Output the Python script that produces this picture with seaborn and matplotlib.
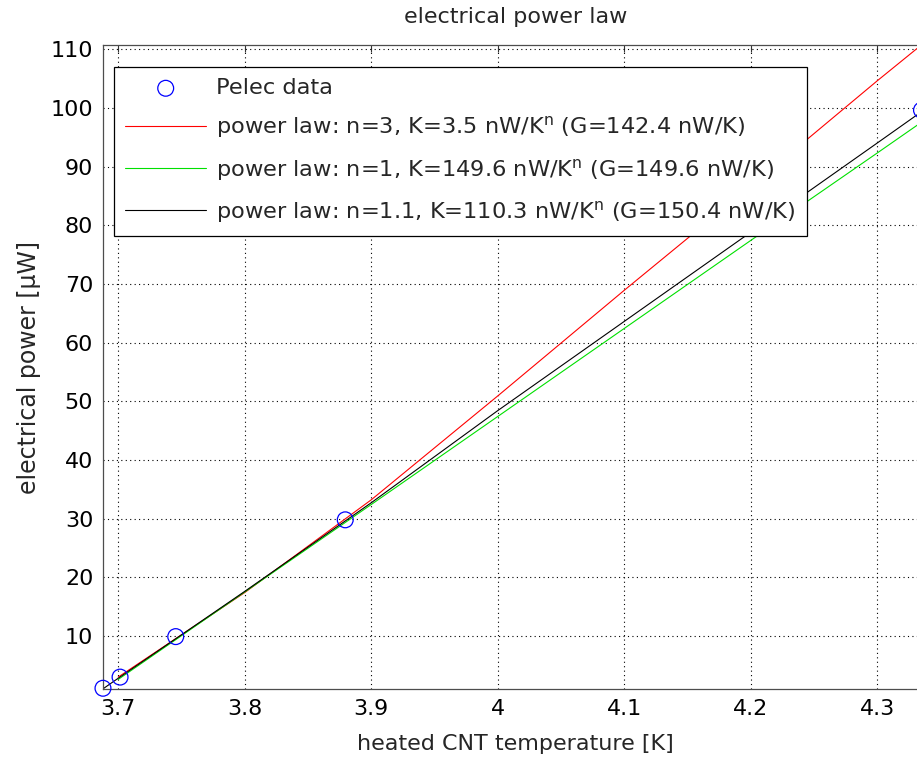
import numpy as np
import pandas as pd
import seaborn as sns
import matplotlib
matplotlib.use("Agg")
import matplotlib.pyplot as plt

# measured points
T_data = [3.688, 3.7015, 3.7455, 3.8795, 4.335]
P_data = [1.1, 3.0, 9.9, 29.8, 99.6]

# fitted curves
T_red = [3.700, 3.800, 3.900, 4.000, 4.100, 4.200, 4.300, 4.340]
P_red = [3.0, 17.4, 33.2, 50.9, 68.9, 86.6, 104.6, 111.6]

T_green = [3.700, 3.800, 3.900, 4.000, 4.100, 4.200, 4.300, 4.340]
P_green = [2.6, 17.5, 32.4, 47.4, 62.4, 77.4, 92.3, 98.3]

T_black = [3.688, 3.700, 3.800, 3.900, 4.000, 4.100, 4.200, 4.300, 4.340]
P_black = [1.0, 2.8, 17.6, 32.7, 48.4, 63.6, 78.8, 94.0, 100.1]

labels = [
    "Pelec data",
    r"power law: n=3, K=3.5 nW/K$^{\mathrm{n}}$ (G=142.4 nW/K)",
    r"power law: n=1, K=149.6 nW/K$^{\mathrm{n}}$ (G=149.6 nW/K)",
    r"power law: n=1.1, K=110.3 nW/K$^{\mathrm{n}}$ (G=150.4 nW/K)",
]

sns.set_style("white")
plt.rcParams["font.family"] = ["DejaVu Sans"]
plt.rcParams["mathtext.fontset"] = "dejavusans"

fig = plt.figure(figsize=(9.17, 7.58), dpi=100)
ax = fig.add_axes([0.1123, 0.091, 0.8995, 0.8496])

sns.scatterplot(x=T_data, y=P_data, ax=ax, marker="o", s=130,
                facecolors="none", edgecolor="blue", linewidth=0.9,
                label=labels[0], zorder=5, clip_on=False)
sns.lineplot(x=T_red, y=P_red, ax=ax, color="red", linewidth=0.8, label=labels[1])
sns.lineplot(x=T_green, y=P_green, ax=ax, color="#00e000", linewidth=0.8, label=labels[2])
sns.lineplot(x=T_black, y=P_black, ax=ax, color="black", linewidth=0.8, label=labels[3])

ax.set_xlim(3.688, 4.34)
ax.set_ylim(0.97, 110.7)
ax.set_xticks([3.7, 3.8, 3.9, 4.0, 4.1, 4.2, 4.3])
ax.set_xticklabels(["3.7", "3.8", "3.9", "4", "4.1", "4.2", "4.3"])
ax.set_yticks(range(10, 111, 10))

ax.grid(True, linestyle=(0, (1, 3)), color="black", linewidth=0.8)
ax.tick_params(direction="in", length=5, width=0.8, colors="0.2",
               labelsize=16, labelcolor="black", top=True, right=True, pad=7)
for s in ax.spines.values():
    s.set_color("0.3")
    s.set_linewidth(0.9)

ax.set_xlabel("heated CNT temperature [K]", fontsize=16, labelpad=11)
ax.set_ylabel("electrical power [\u03bcW]", fontsize=17, labelpad=7)
ax.set_title("electrical power law", fontsize=16, pad=16)

leg = ax.legend(loc="upper left", bbox_to_anchor=(0.0133, 0.966), borderaxespad=0,
                fontsize=16.2, frameon=True, fancybox=False, edgecolor="black",
                framealpha=1, handlelength=3.6, labelspacing=0.72,
                borderpad=0.5, handletextpad=0.45)
leg.get_frame().set_linewidth(0.9)

fig.savefig("out.png", dpi=100)
